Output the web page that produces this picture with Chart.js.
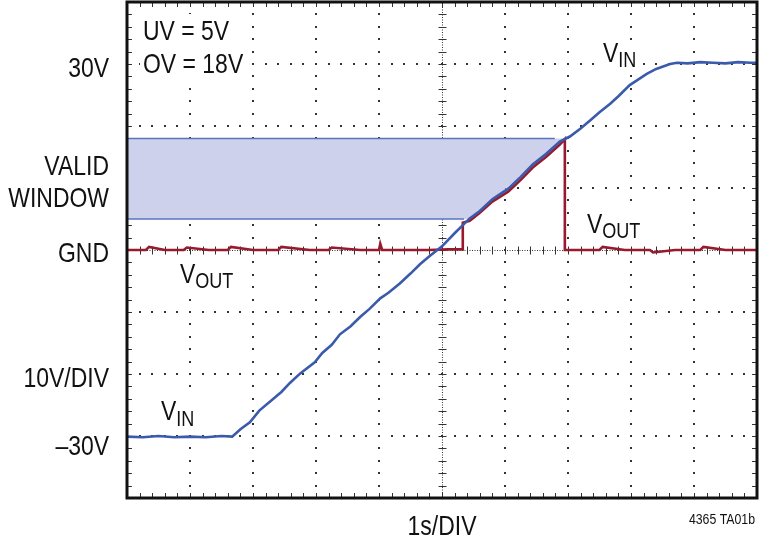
<!DOCTYPE html>
<html>
<head>
<meta charset="utf-8">
<script src="https://cdn.jsdelivr.net/npm/chart.js@4.4.1/dist/chart.umd.min.js"></script>
<style>
  body { margin: 0; background: #fff; }
  canvas { display: block; }
</style>
</head>
<body>
<canvas id="scope" width="760" height="545"></canvas>
<script>
// time in divisions (1s/DIV), voltage in volts (10V/DIV)
const vinTime = [0, 0.25, 0.5, 0.75, 1.0, 1.25, 1.5, 1.67, 1.8, 1.95, 2.1, 2.3, 2.45, 2.59, 2.75, 2.98,
    3.1, 3.25, 3.38, 3.55, 3.70, 3.85, 4.02, 4.15, 4.33, 4.5, 4.65, 4.8, 5.0, 5.2, 5.44, 5.6,
    5.8, 6.05, 6.25, 6.44, 6.65, 6.87, 7.03, 7.2, 7.35, 7.5, 7.67, 7.8, 7.98, 8.1, 8.25, 8.4,
    8.51, 8.62, 8.73, 8.9, 9.1, 9.3, 9.5, 9.7, 9.9, 10];
const vinVolts = [-30.1, -30.2, -30.0, -30.2, -30.1, -30.2, -30.0, -30.1, -28.9, -27.8, -25.9, -24.2, -22.9, -21.4, -19.9, -18.1,
    -16.6, -15.3, -13.6, -12.3, -10.8, -9.5, -7.8, -6.9, -5.4, -3.8, -2.3, -1.0, 0.6, 2.7, 5.1, 6.3,
    8.2, 9.9, 11.8, 13.8, 15.5, 17.5, 18.3, 19.6, 20.9, 22.2, 23.6, 24.8, 26.6, 27.4, 28.4, 29.2,
    29.6, 30.0, 30.2, 30.1, 30.3, 30.2, 30.1, 30.3, 30.2, 30.2];

const voutTime = [0, 0.3, 0.35, 0.6, 0.9, 0.95, 1.3, 1.6, 1.65, 2.0, 2.4, 2.45, 2.9, 3.2, 3.25, 3.7,
    4.0, 4.02, 4.05, 4.4, 4.8, 5.1, 5.33, 5.33, 5.44, 5.6, 5.8, 6.05, 6.25, 6.44, 6.65, 6.87,
    6.95, 6.95, 7.2, 7.5, 7.55, 7.9, 8.3, 8.35, 8.7, 9.1, 9.15, 9.5, 9.9, 10];
const voutVolts = [0, 0, 0.5, 0, 0, 0.4, 0, 0, 0.5, 0, 0, 0.5, 0, 0, 0.4, 0,
    0, 1.0, 0, 0, 0, 0.1, 0.1, 4.4, 4.7, 6.0, 7.8, 9.4, 11.3, 13.3, 15.0, 17.0,
    17.9, 0, 0, 0, 0.5, 0, 0, -0.4, 0, 0, 0.5, 0, 0, 0];

// valid window (UV = 5V, OV = 18V): shaded area reaches under the VIN trace,
// its top and bottom edge lines stop a little before it
const windowTime = [0, 6.97, 5.42, 0];
const windowVolts = [18, 18, 5, 5];
const windowEdgeEnd = [6.79, 5.35];

const leftLabels = ['30V', 'VALID', 'WINDOW', 'GND', '10V/DIV', '\u201330V'];
const leftLabelY = [77, 175, 207, 262, 387, 455];

const FONT = '"Liberation Sans", Arial, sans-serif';
const NARROW = 0.82;
const BLUE = 'rgb(58, 90, 172)';
const RED = 'rgb(152, 26, 44)';

function points(xs, ys) {
    return xs.map((t, i) => ({ x: t, y: ys[i] }));
}

// condensed text: regular face squeezed horizontally
function text(ctx, str, x, y, size, align) {
    ctx.save();
    ctx.font = `${size}px ${FONT}`;
    ctx.textAlign = align || 'left';
    ctx.translate(x, y);
    ctx.scale(NARROW, 1);
    ctx.fillText(str, 0, 0);
    const w = ctx.measureText(str).width * NARROW;
    ctx.restore();
    return w;
}

function width(ctx, str, size) {
    ctx.save();
    ctx.font = `${size}px ${FONT}`;
    const w = ctx.measureText(str).width * NARROW;
    ctx.restore();
    return w;
}

function subLabel(ctx, x, y, main, sub, drop) {
    const w = width(ctx, main, 28) + width(ctx, sub, 22);
    ctx.fillStyle = '#fff';
    ctx.fillRect(x - 2, y - 22, w + 4, 24 + drop);
    ctx.fillStyle = '#111';
    const mw = text(ctx, main, x, y, 28);
    text(ctx, sub, x + mw, y + drop, 22);
}

const scopeGrid = {
    id: 'scopeGrid',
    beforeDatasetsDraw(chart) {
        const { ctx, chartArea: a, scales: { x, y } } = chart;
        ctx.save();
        ctx.fillStyle = '#333';
        // dotted major lines, 5 dots per division
        for (let i = 1; i < 10; i++) {
            if (i === 5) continue;
            const px = x.getPixelForValue(i);
            for (let v = -40; v <= 40; v += 2) {
                ctx.fillRect(Math.round(px) - 1, Math.round(y.getPixelForValue(v)) - 1, 2, 2);
            }
        }
        for (let v = -30; v <= 30; v += 10) {
            if (v === 0) continue;
            const py = y.getPixelForValue(v);
            for (let t = 0; t <= 10; t += 0.2) {
                ctx.fillRect(Math.round(x.getPixelForValue(t)) - 1, Math.round(py) - 1, 2, 2);
            }
        }
        // center axes with fine dots and cross ticks
        const cx = Math.round(x.getPixelForValue(5)) + 0.5;
        const cy = Math.round(y.getPixelForValue(0)) + 0.5;
        ctx.strokeStyle = '#333';
        ctx.lineWidth = 1;
        ctx.setLineDash([1, 1.5]);
        ctx.beginPath();
        ctx.moveTo(cx, a.top); ctx.lineTo(cx, a.bottom);
        ctx.moveTo(a.left, cy); ctx.lineTo(a.right, cy);
        ctx.stroke();
        ctx.setLineDash([]);
        ctx.beginPath();
        for (let v = -40; v <= 40; v += 2) {
            const py = Math.round(y.getPixelForValue(v)) + 0.5;
            ctx.moveTo(cx - 4, py); ctx.lineTo(cx + 4, py);
        }
        for (let t = 0; t <= 10; t += 0.2) {
            const px = Math.round(x.getPixelForValue(t)) + 0.5;
            ctx.moveTo(px, cy - 4); ctx.lineTo(px, cy + 4);
        }
        // small ticks inside the frame
        for (let v = -40; v <= 40; v += 2) {
            const py = Math.round(y.getPixelForValue(v)) + 0.5;
            ctx.moveTo(a.left, py); ctx.lineTo(a.left + 5, py);
            ctx.moveTo(a.right, py); ctx.lineTo(a.right - 5, py);
        }
        for (let t = 0; t <= 10; t += 0.2) {
            const px = Math.round(x.getPixelForValue(t)) + 0.5;
            ctx.moveTo(px, a.top); ctx.lineTo(px, a.top + 5);
            ctx.moveTo(px, a.bottom); ctx.lineTo(px, a.bottom - 5);
        }
        ctx.stroke();
        ctx.restore();
    },
    afterDraw(chart) {
        const { ctx, chartArea: a, scales: { x } } = chart;
        ctx.save();
        ctx.strokeStyle = '#111';
        ctx.lineWidth = 3;
        ctx.strokeRect(a.left, a.top, a.right - a.left, a.bottom - a.top);

        ctx.fillStyle = '#111';
        ctx.textBaseline = 'alphabetic';
        leftLabels.forEach((txt, i) => text(ctx, txt, 109, leftLabelY[i], 28, 'right'));
        text(ctx, '1s/DIV', x.getPixelForValue(5), 535, 28, 'center');
        text(ctx, '4365 TA01b', 755, 524, 15, 'right');

        // settings box, top left inside the frame
        const bw = Math.max(width(ctx, 'UV = 5V', 28), width(ctx, 'OV = 18V', 28));
        ctx.fillStyle = '#fff';
        ctx.fillRect(140, 14, bw + 6, 64);
        ctx.fillStyle = '#111';
        text(ctx, 'UV = 5V', 143, 40, 28);
        text(ctx, 'OV = 18V', 143, 73, 28);

        subLabel(ctx, 603, 62, 'V', 'IN', 5);
        subLabel(ctx, 587, 233, 'V', 'OUT', 5);
        subLabel(ctx, 180, 283, 'V', 'OUT', 5);
        subLabel(ctx, 161, 420, 'V', 'IN', 6);
        ctx.restore();
    }
};

const edge = 'rgb(88, 115, 192)';

new Chart(document.getElementById('scope'), {
    type: 'scatter',
    data: {
        datasets: [
            {
                label: 'VIN',
                data: points(vinTime, vinVolts),
                showLine: true,
                borderColor: BLUE,
                borderWidth: 2.6,
                pointRadius: 0,
                order: 0
            },
            {
                label: 'VOUT',
                data: points(voutTime, voutVolts),
                showLine: true,
                borderColor: RED,
                borderWidth: 2.6,
                pointRadius: 0,
                order: 1
            },
            {
                label: 'window top',
                data: points([windowTime[0], windowEdgeEnd[0]], [windowVolts[0], windowVolts[1]]),
                showLine: true,
                borderColor: edge,
                borderWidth: 1.5,
                pointRadius: 0,
                order: 2
            },
            {
                label: 'window bottom',
                data: points([windowTime[3], windowEdgeEnd[1]], [windowVolts[3], windowVolts[2]]),
                showLine: true,
                borderColor: edge,
                borderWidth: 1.5,
                pointRadius: 0,
                order: 2
            },
            {
                label: 'valid window',
                data: points(windowTime, windowVolts),
                showLine: true,
                fill: 'shape',
                backgroundColor: 'rgb(205, 209, 236)',
                borderColor: 'rgba(0,0,0,0)',
                borderWidth: 0,
                pointRadius: 0,
                order: 3
            }
        ]
    },
    options: {
        responsive: false,
        animation: false,
        layout: { padding: { left: 127, right: 3, top: 2, bottom: 47 } },
        plugins: {
            legend: { display: false },
            tooltip: { enabled: false }
        },
        scales: {
            x: { type: 'linear', min: 0, max: 10, display: false },
            y: { type: 'linear', min: -40, max: 40, display: false }
        }
    },
    plugins: [scopeGrid]
});
</script>
</body>
</html>
